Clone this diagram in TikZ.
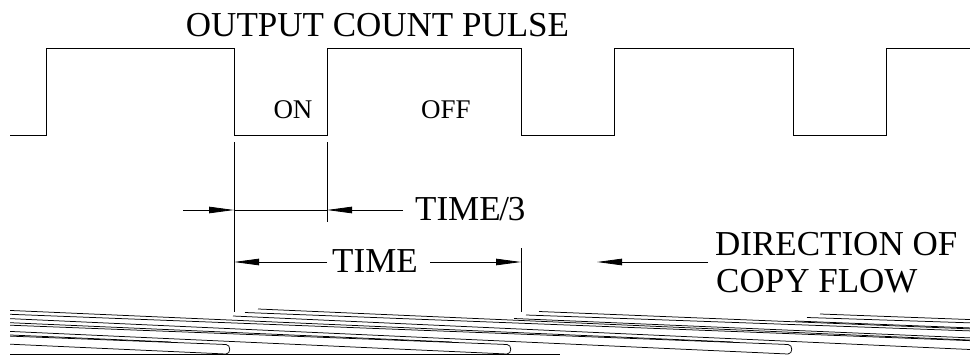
\documentclass[tikz,border=0pt]{standalone}
\usepackage{fontspec}
\setmainfont{Liberation Serif}
\usetikzlibrary{arrows.meta}
\tikzset{
  wire/.style={line width=0.8pt},
  dimarrow/.style={line width=0.8pt,-{Triangle[length=25pt,width=6.5pt]}},
  big/.style={font=\fontsize{35}{35}\selectfont, inner sep=0pt},
  small/.style={font=\fontsize{27}{27}\selectfont, inner sep=0pt},
  sheet/.style={line width=0.75pt},
}
\begin{document}
\begin{tikzpicture}[x=1pt,y=-1pt]
\useasboundingbox (0,0) rectangle (970,356);
% texts
\node[big,anchor=base] (title) at (377.5,36) {OUTPUT COUNT PULSE};
\node[small,anchor=base] (on) at (293,118) {ON};
\node[small,anchor=base] (off) at (446,118) {OFF};
\node[big,anchor=base west] (t3) at (415,220) {TIME\kern-1.5pt/\kern-1pt3};
\node[big,anchor=base] (tm) at (375,272) {TIME};
\node[big,anchor=base west] (dir1) at (715,255) {DIRECTION OF};
\node[big,anchor=base west] (dir2) at (716,292) {COPY FLOW};
% waveform
\draw[wire] (10,135) -- (46,135) -- (46,48) -- (234,48) -- (234,135) -- (327,135)
  -- (327,48) -- (521,48) -- (521,135) -- (614,135) -- (614,48) -- (793,48)
  -- (793,135) -- (886,135) -- (886,48) -- (970,48);
% extension lines
\coordinate (ea1) at (234,142); \coordinate (ea2) at (234,312);
\coordinate (eb1) at (327,142); \coordinate (eb2) at (327,222);
\coordinate (ec1) at (521,248); \coordinate (ec2) at (521,312);
\draw[wire] (ea1) -- (ea2);
\draw[wire] (eb1) -- (eb2);
\draw[wire] (ec1) -- (ec2);
% TIME/3 dimension
\coordinate (p1) at (183,210); \coordinate (p2) at (234,210);
\coordinate (p3) at (327,210); \coordinate (p4) at (403,210);
\draw[wire] (p2) -- (p3);
\draw[dimarrow] (p1) -- (p2);
\draw[dimarrow] (p4) -- (p3);
% TIME dimension
\coordinate (q1) at (234,262); \coordinate (q2) at (327,262);
\coordinate (q3) at (430,262); \coordinate (q4) at (521,262);
\draw[dimarrow] (q2) -- (q1);
\draw[dimarrow] (q3) -- (q4);
% copy flow arrow
\coordinate (f1) at (708,262); \coordinate (f2) at (597,262);
\draw[dimarrow] (f1) -- (f2);
% copy sheets
\begin{scope}
\clip (10,290) rectangle (970,356);
\foreach \k in {-3,...,2}{
  \pgfmathsetmacro{\xs}{233+281*\k}
  \pgfmathsetmacro{\ys}{309+2.5*max(\k,0)}
  \pgfmathsetmacro{\h}{\xs+841}
  \draw[sheet] (\xs,\ys+7) -- (\h-5,354) .. controls (\h,354) and (\h,344.5) .. (\h-5,344.5) -- (\xs+12,\ys+3.5);
  \draw[sheet] (\xs+25,\ys) -- (\h-60,342);
}
\draw[sheet] (10,354) -- (560,354);
\end{scope}
\end{tikzpicture}
\end{document}
